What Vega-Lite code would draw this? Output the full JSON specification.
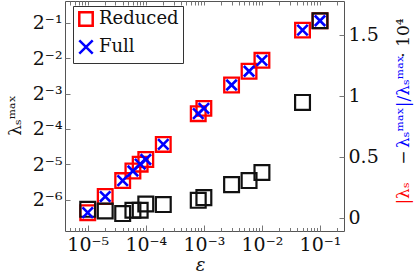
{
  "$schema": "https://vega.github.io/schema/vega-lite/v6.json",
  "width": 279,
  "height": 230,
  "autosize": {"type": "none"},
  "padding": {"left": 65, "top": 1, "right": 74, "bottom": 43},
  "background": "white",
  "config": {
    "font": "DejaVu Serif",
    "view": {"stroke": "#555", "strokeWidth": 1},
    "axis": {
      "grid": false,
      "domain": false,
      "tickColor": "#777",
      "tickWidth": 1,
      "labelColor": "#111",
      "labelFont": "DejaVu Serif",
      "labelFontSize": 19,
      "titleFont": "DejaVu Serif",
      "titleFontSize": 17,
      "titleFontWeight": "normal",
      "titleColor": "#111"
    },
    "legend": {
      "labelFont": "DejaVu Serif",
      "labelFontSize": 18,
      "labelColor": "#111",
      "fillColor": "white",
      "strokeColor": "#333",
      "padding": 4,
      "rowPadding": 4,
      "symbolStrokeWidth": 2.5,
      "symbolSize": 180,
      "labelOffset": 4
    }
  },
  "data": {
    "values": [
      {"eps": 1e-5, "lam": 0.0121, "err": 0.068},
      {"eps": 2e-5, "lam": 0.0166, "err": 0.054},
      {"eps": 4e-5, "lam": 0.0227, "err": 0.033},
      {"eps": 6e-5, "lam": 0.0274, "err": 0.060},
      {"eps": 8e-5, "lam": 0.0313, "err": 0.060},
      {"eps": 1e-4, "lam": 0.0343, "err": 0.112},
      {"eps": 2e-4, "lam": 0.0461, "err": 0.107},
      {"eps": 8e-4, "lam": 0.0842, "err": 0.142},
      {"eps": 1e-3, "lam": 0.0934, "err": 0.164},
      {"eps": 3e-3, "lam": 0.1476, "err": 0.271},
      {"eps": 6e-3, "lam": 0.1934, "err": 0.304},
      {"eps": 1e-2, "lam": 0.2396, "err": 0.370},
      {"eps": 5e-2, "lam": 0.433, "err": 0.946},
      {"eps": 1e-1, "lam": 0.520, "err": 1.617}
    ]
  },
  "layer": [
    {
      "mark": {"type": "point", "shape": "square", "filled": false, "strokeWidth": 2.3, "size": 215, "opacity": 1},
      "encoding": {
        "x": {
          "field": "eps", "type": "quantitative",
          "scale": {"type": "log", "domain": [4.06e-6, 0.259], "nice": false},
          "axis": {
            "orient": "bottom",
            "values": [1e-5, 1e-4, 1e-3, 1e-2, 1e-1],
            "tickSize": -6,
            "labelPadding": 10,
            "labelExpr": "'10' + ['⁻⁵','⁻⁴','⁻³','⁻²','⁻¹'][round(log(datum.value)/LN10) + 5]",
            "title": "ε",
            "titleFontStyle": "italic",
            "titleFontSize": 18,
            "titleX": 135,
            "titleY": 34,
            "titleBaseline": "middle",
            "titleAlign": "center"
          }
        },
        "y": {
          "field": "lam", "type": "quantitative",
          "scale": {"type": "log", "base": 2, "domain": [0.00845, 0.766], "nice": false},
          "axis": {
            "orient": "left",
            "values": [0.5, 0.25, 0.125, 0.0625, 0.03125, 0.015625],
            "tickSize": -5,
            "labelPadding": 8,
            "labelExpr": "'2' + ['⁻¹','⁻²','⁻³','⁻⁴','⁻⁵','⁻⁶'][round(-log(datum.value)/LN2) - 1]",
            "title": "λₛᵐᵃˣ",
            "titleX": -50,
            "titleY": 114,
            "titleAngle": 270,
            "titleAlign": "center",
            "titleBaseline": "middle"
          }
        },
        "color": {
          "datum": "Reduced",
          "scale": {"domain": ["Reduced", "Full"], "range": ["#ff0000", "#0000ff"]},
          "legend": {"title": null, "orient": "none", "legendX": 8, "legendY": 5}
        },
        "shape": {
          "datum": "Reduced",
          "scale": {"domain": ["Reduced", "Full"], "range": ["square", "M-1,-1L1,1M-1,1L1,-1"]},
          "legend": {"title": null, "orient": "none", "legendX": 8, "legendY": 5}
        }
      }
    },
    {
      "mark": {"type": "point", "shape": "square", "filled": false, "strokeWidth": 2.2, "size": 220, "color": "#111", "opacity": 1},
      "encoding": {
        "x": {
          "field": "eps", "type": "quantitative",
          "axis": {
            "orient": "bottom",
            "values": [5e-6, 6e-6, 7e-6, 8e-6, 9e-6, 2e-5, 3e-5, 4e-5, 5e-5, 6e-5, 7e-5, 8e-5, 9e-5, 2e-4, 3e-4, 4e-4, 5e-4, 6e-4, 7e-4, 8e-4, 9e-4, 2e-3, 3e-3, 4e-3, 5e-3, 6e-3, 7e-3, 8e-3, 9e-3, 2e-2, 3e-2, 4e-2, 5e-2, 6e-2, 7e-2, 8e-2, 9e-2, 2e-1],
            "tickSize": -3.5,
            "labels": false,
            "title": "−",
            "titleX": 338,
            "titleY": -74,
            "titleAngle": 270,
            "titleAlign": "center",
            "titleBaseline": "middle"
          }
        },
        "y": {
          "field": "err", "type": "quantitative",
          "scale": {"type": "linear", "domain": [-0.110, 1.779], "nice": false, "zero": false},
          "axis": {
            "orient": "right",
            "values": [0, 0.5, 1, 1.5],
            "format": "~g",
            "tickSize": -5,
            "labelPadding": 9,
            "title": "· 10⁴",
            "titleX": 59,
            "titleY": 36.5,
            "titleAngle": 270,
            "titleAlign": "center",
            "titleBaseline": "middle"
          }
        }
      }
    },
    {
      "mark": {"type": "point", "filled": false, "strokeWidth": 2.6, "size": 110, "opacity": 1},
      "encoding": {
        "x": {
          "field": "eps", "type": "quantitative",
          "axis": {
            "orient": "top",
            "values": [5e-6, 6e-6, 7e-6, 8e-6, 9e-6, 1e-5, 2e-5, 3e-5, 4e-5, 5e-5, 6e-5, 7e-5, 8e-5, 9e-5, 1e-4, 2e-4, 3e-4, 4e-4, 5e-4, 6e-4, 7e-4, 8e-4, 9e-4, 1e-3, 2e-3, 3e-3, 4e-3, 5e-3, 6e-3, 7e-3, 8e-3, 9e-3, 1e-2, 2e-2, 3e-2, 4e-2, 5e-2, 6e-2, 7e-2, 8e-2, 9e-2, 1e-1, 2e-1],
            "tickSize": -4,
            "labels": false,
            "title": "|λₛ",
            "titleColor": "#ff0000",
            "titleX": 338,
            "titleY": 192,
            "titleAngle": 270,
            "titleAlign": "center",
            "titleBaseline": "middle"
          }
        },
        "y": {
          "field": "lam", "type": "quantitative",
          "scale": {"type": "log", "base": 2, "domain": [0.00845, 0.766], "nice": false},
          "axis": {
            "orient": "right",
            "ticks": false,
            "labels": false,
            "title": "λₛᵐᵃˣ|/λₛᵐᵃˣ",
            "titleColor": "#0000ff",
            "titleX": 59,
            "titleY": 100,
            "titleAngle": 270,
            "titleAlign": "center",
            "titleBaseline": "middle"
          }
        },
        "color": {"datum": "Full"},
        "shape": {"datum": "Full"}
      }
    }
  ],
  "resolve": {
    "scale": {"y": "independent"},
    "axis": {"x": "independent", "y": "independent"}
  }
}
